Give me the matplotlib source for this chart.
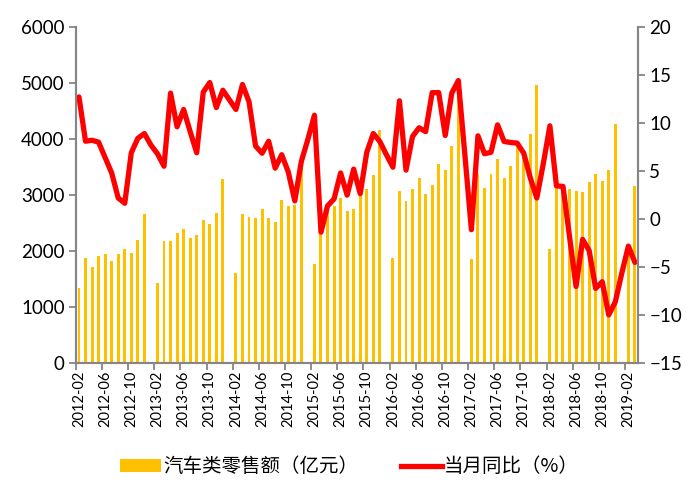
import numpy as np
import matplotlib.pyplot as plt
from matplotlib.patches import Patch
from matplotlib.lines import Line2D

plt.rcParams['font.family'] = ['Lato', 'Noto Sans CJK SC', 'DejaVu Sans']

# monthly categories 2012-02 .. 2019-03 (January kept as an empty slot)
months = [f"{y}-{m:02d}" for y in range(2012, 2020) for m in range(1, 13)]
months = months[1:months.index("2019-03") + 1]

# 汽车类零售额（亿元）, None for January
sales = [1350, 1872, 1716, 1914, 1950, 1825, 1950, 2036, 1965, 2197, 2665,
         None, 1435, 2188, 2188, 2324, 2396, 2234, 2282, 2555, 2484, 2683, 3284,
         None, 1612, 2663, 2603, 2586, 2746, 2586, 2517, 2913, 2805, 2823, 3580,
         None, 1772, 2350, 2700, 2805, 2942, 2716, 2749, 3000, 3105, 3357, 4160,
         None, 1873, 3073, 2895, 3105, 3305, 3020, 3180, 3554, 3447, 3875, 4760,
         None, 1859, 3376, 3121, 3376, 3640, 3299, 3519, 3850, 3685, 4089, 4962,
         None, 2037, 3150, 3150, 3103, 3073, 3050, 3228, 3376, 3251, 3447, 4267,
         None, 2100, 3162]

# 当月同比（%）
yoy = [12.7, 8.1, 8.2, 8.0, 6.4, 4.8, 2.2, 1.65, 6.9, 8.4, 8.9,
       7.7, 6.8, 5.5, 13.1, 9.6, 11.4, 9.1, 6.9, 13.2, 14.2, 11.6, 13.4,
       12.4, 11.4, 14.0, 12.2, 7.6, 6.85, 8.1, 5.3, 6.7, 4.9, 1.9, 6.0,
       8.3, 10.8, -1.35, 1.37, 2.1, 4.8, 2.5, 5.2, 2.65, 6.95, 8.9, 8.07,
       6.7, 5.4, 12.3, 5.1, 8.6, 9.5, 9.1, 13.15, 13.15, 8.7, 13.1, 14.4,
       6.7, -1.1, 8.66, 6.8, 6.95, 9.8, 8.07, 7.97, 7.9, 6.86, 4.3, 2.2,
       5.8, 9.7, 3.46, 3.4, -1.8, -7.0, -2.1, -3.26, -7.2, -6.5, -9.95, -8.6,
       -5.6, -2.8, -4.5]

GOLD = "#FFC000"
RED = "#FF0000"
GREY = "#868686"

x = np.arange(len(months))
bar_x = [i for i, v in enumerate(sales) if v is not None]
bar_h = [v for v in sales if v is not None]

fig = plt.figure(figsize=(6.99, 5.04), dpi=100)
ax = fig.add_axes([0.1083, 0.2788, 0.8047, 0.6682])
ax.bar(bar_x, bar_h, width=0.45, color=GOLD, zorder=2)
ax.set_xlim(-0.5, len(months) - 0.5)
ax.set_ylim(0, 6000)
ax.set_yticks(range(0, 6001, 1000))

ax2 = ax.twinx()
ax2.plot(x, yoy, color=RED, linewidth=3.8, solid_joinstyle="round",
         solid_capstyle="round")
ax2.set_ylim(-15, 20)
ax2.set_yticks(range(-15, 21, 5))

# category ticks: marks at boundaries every 4 months, labels at centres
ax.set_xticks(np.arange(-0.5, len(months), 4))
ax.set_xticklabels([])
ax.set_xticks(x[::4], minor=True)
ax.set_xticklabels(months[::4], minor=True, rotation=90, fontsize=10.5)
ax.tick_params(axis="x", which="minor", length=0, pad=5)
ax.tick_params(axis="x", which="major", length=5, color=GREY, width=1.3)
ax.tick_params(axis="y", length=5, color=GREY, width=1.3, labelsize=13.5, pad=3)
ax2.tick_params(axis="y", length=5, color=GREY, width=1.3, labelsize=13.5, pad=3)

for a in (ax, ax2):
    a.spines["top"].set_visible(False)
    for s in ("left", "right", "bottom"):
        a.spines[s].set_color(GREY)
        a.spines[s].set_linewidth(1.5)

handles = [Patch(facecolor=GOLD, edgecolor="none", label="汽车类零售额（亿元）"),
           Line2D([0], [0], color=RED, linewidth=3.8, label="当月同比（%）")]
fig.legend(handles=handles, loc="center", bbox_to_anchor=(0.5, 1 - 467 / 504),
           ncol=2, frameon=False, prop={"family": ["Noto Sans CJK SC"], "size": 14},
           handlelength=2.1, handleheight=0.6, handletextpad=0.1, columnspacing=2.2)

fig.savefig("out.png", dpi=100)
